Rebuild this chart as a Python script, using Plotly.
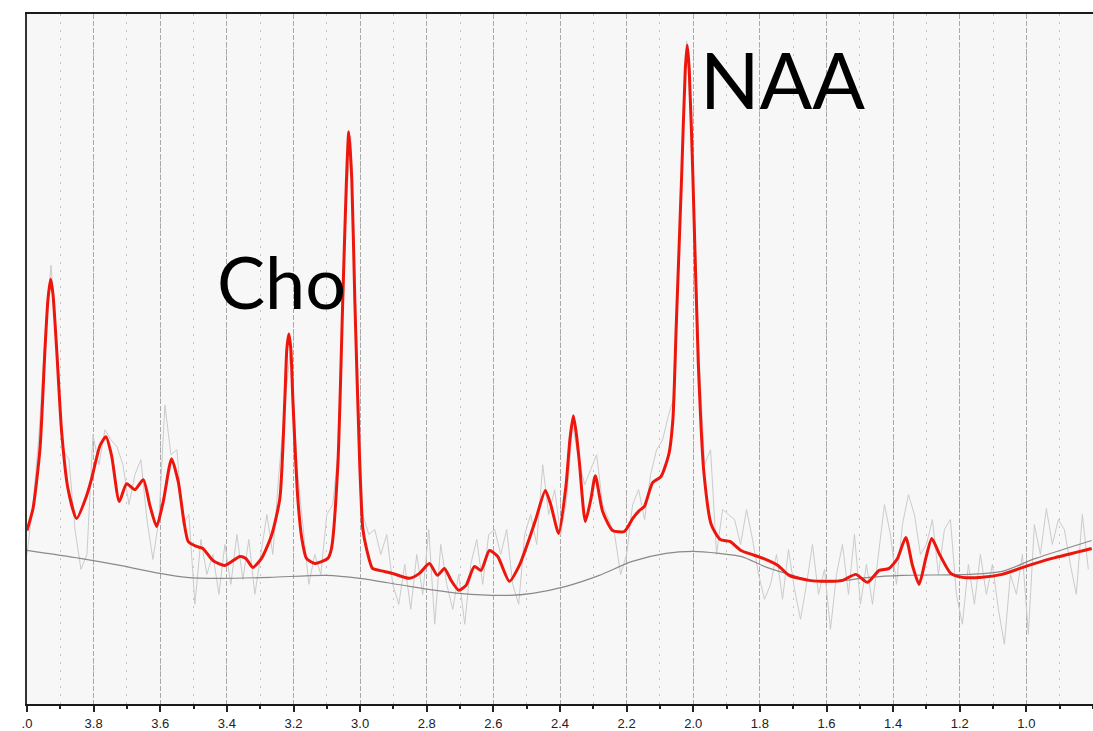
import numpy as np
import plotly.graph_objects as go

# ---------------- data ----------------
# fitted spectrum (red)
fit_ppm = [4.000, 3.982, 3.961, 3.946, 3.937, 3.929, 3.922, 3.911, 3.896, 3.877,
           3.851, 3.821, 3.806, 3.781, 3.763, 3.746, 3.723, 3.701, 3.676, 3.651,
           3.631, 3.611, 3.591, 3.566, 3.546, 3.516, 3.491, 3.472, 3.442, 3.406,
           3.361, 3.343, 3.322, 3.296, 3.266, 3.241, 3.226, 3.220, 3.214, 3.208,
           3.202, 3.187, 3.175, 3.161, 3.136, 3.097, 3.086, 3.067, 3.052, 3.041,
           3.034, 3.025, 3.016, 3.001, 2.992, 2.981, 2.963, 2.942, 2.903, 2.852,
           2.822, 2.792, 2.768, 2.747, 2.727, 2.704, 2.682, 2.657, 2.637, 2.612,
           2.587, 2.552, 2.522, 2.492, 2.472, 2.444, 2.427, 2.404, 2.382, 2.370,
           2.360, 2.351, 2.342, 2.324, 2.307, 2.294, 2.272, 2.242, 2.207, 2.182,
           2.162, 2.147, 2.122, 2.097, 2.073, 2.061, 2.051, 2.035, 2.024, 2.018,
           2.012, 2.001, 1.985, 1.968, 1.946, 1.919, 1.890, 1.857, 1.824, 1.790,
           1.746, 1.712, 1.652, 1.592, 1.552, 1.512, 1.477, 1.442, 1.412, 1.387,
           1.362, 1.342, 1.322, 1.302, 1.284, 1.262, 1.227, 1.192, 1.133, 1.073,
           1.002, 0.923, 0.804]
fit_int = [174, 196, 256, 356, 406, 426, 411, 356, 273, 216,
           186, 209, 226, 259, 268, 249, 203, 221, 215, 225,
           199, 178, 203, 246, 223, 163, 158, 156, 144, 139,
           148, 146, 137, 146, 169, 206, 306, 356, 371, 356,
           306, 206, 166, 146, 141, 146, 156, 239, 406, 526,
           574, 526, 406, 239, 176, 156, 136, 134, 131, 126,
           131, 141, 129, 136, 124, 114, 119, 138, 134, 154,
           148, 123, 139, 166, 186, 214, 199, 171, 219, 266,
           289, 271, 243, 183, 206, 229, 193, 174, 173, 186,
           194, 198, 222, 228, 251, 286, 380, 528, 636, 661,
           636, 528, 343, 232, 180, 165, 163, 154, 150, 146,
           139, 129, 124, 123, 124, 130, 122, 134, 136, 146,
           167, 139, 120, 146, 166, 151, 131, 127, 127, 130,
           138, 146, 156]

# baseline (dark grey)
base_ppm = [4.000, 3.841, 3.721, 3.601, 3.521, 3.421, 3.271, 3.101, 3.001, 2.852,
            2.702, 2.552, 2.483, 2.382, 2.282, 2.183, 2.082, 2.002, 1.922, 1.857,
            1.779, 1.712, 1.652, 1.572, 1.472, 1.373, 1.172, 1.073, 0.972, 0.804]
base_int = [154, 146, 139, 131, 127, 126, 127, 129, 126, 118,
            111, 109, 111, 118, 129, 143, 151, 153, 151, 148,
            137, 130, 124, 123, 127, 129, 130, 133, 146, 164]

# raw spectrum (light grey), sampled every 0.018 ppm from 4.0 ppm
raw_start = 4.0
raw_step = 0.018
raw_int = [150, 200, 270, 370, 440, 360, 255, 245, 175, 135,
           150, 270, 240, 275, 265, 258, 240, 200, 230, 245,
           185, 145, 185, 300, 250, 255, 180, 190, 100, 165,
           130, 150, 110, 160, 120, 170, 125, 165, 110, 150,
           190, 150, 230, 300, 360, 240, 180, 120, 150, 130,
           190, 200, 260, 480, 570, 360, 190, 170, 175, 150,
           170, 120, 100, 140, 95, 150, 110, 175, 80, 160,
           120, 95, 130, 80, 140, 165, 120, 170, 175, 150,
           175, 120, 100, 170, 190, 160, 240, 190, 215, 170,
           205, 280, 245, 220, 235, 250, 200, 185, 170, 130,
           150, 200, 215, 185, 230, 255, 265, 290, 310, 500,
           665, 550, 360, 240, 255, 150, 195, 190, 185, 160,
           195, 165, 130, 105, 120, 150, 105, 155, 115, 85,
           120, 160, 110, 135, 75, 130, 160, 110, 170, 100,
           140, 100, 150, 200, 170, 120, 180, 210, 190, 150,
           160, 185, 130, 175, 185, 110, 80, 140, 100, 150,
           110, 140, 95, 60, 130, 110, 150, 70, 180, 150,
           196, 160, 185, 175, 140, 110, 190, 135]
raw_ppm = [raw_start - raw_step * i for i in range(len(raw_int))]

tick_vals = [4.0, 3.8, 3.6, 3.4, 3.2, 3.0, 2.8, 2.6, 2.4, 2.2, 2.0, 1.8, 1.6, 1.4, 1.2, 1.0]
tick_text = [".0", "3.8", "3.6", "3.4", "3.2", "3.0", "2.8", "2.6", "2.4", "2.2",
             "2.0", "1.8", "1.6", "1.4", "1.2", "1.0"]

labels = ["Cho", "NAA"]
label_ppm = [3.436, 1.985]
label_int = [424, 627]
label_size = [72, 78]

# ---------------- figure ----------------
fig = go.Figure()
fig.add_trace(go.Scatter(x=raw_ppm, y=raw_int, mode="lines",
                         line=dict(color="#cbcbcb", width=1), hoverinfo="skip"))
fig.add_trace(go.Scatter(x=base_ppm, y=base_int, mode="lines",
                         line=dict(color="#8a8a8a", width=1.2, shape="spline", smoothing=0.8),
                         hoverinfo="skip"))
fig.add_trace(go.Scatter(x=fit_ppm, y=fit_int, mode="lines",
                         line=dict(color="rgb(236,22,12)", width=3, shape="spline", smoothing=0.6),
                         hoverinfo="skip"))

for t, xp, yi, fs in zip(labels, label_ppm, label_int, label_size):
    fig.add_annotation(x=xp, y=yi, xref="x", yref="y", text=t, showarrow=False,
                       xanchor="left", yanchor="middle",
                       font=dict(family="Lato", size=fs, color="#000"))

fig.update_layout(
    width=1093, height=731,
    margin=dict(l=27, r=0, t=14, b=25),
    paper_bgcolor="white",
    plot_bgcolor="#f7f7f7",
    showlegend=False,
)
fig.update_xaxes(
    range=[4.0, 0.8], autorange=False,
    tickmode="array", tickvals=tick_vals, ticktext=tick_text,
    ticks="outside", ticklen=6, tickwidth=2, tickcolor="#222",
    tickfont=dict(family="Liberation Sans", size=13, color="#222"),
    showline=True, linecolor="#1a1a1a", linewidth=2, mirror=True,
    showgrid=True, gridcolor="#a9a9a9", gridwidth=1, griddash="5px,2px",
    zeroline=False,
    minor=dict(dtick=0.1, tick0=0, ticks="outside", ticklen=3, tickwidth=2,
               tickcolor="#222", showgrid=True, gridcolor="#c4c4c4",
               griddash="2px,6px", gridwidth=1),
)
fig.update_yaxes(
    range=[0, 692], autorange=False,
    showticklabels=False, ticks="", showgrid=False, zeroline=False,
    showline=True, linecolor="#333", linewidth=2, mirror=False,
)

fig.write_html("out.html")
